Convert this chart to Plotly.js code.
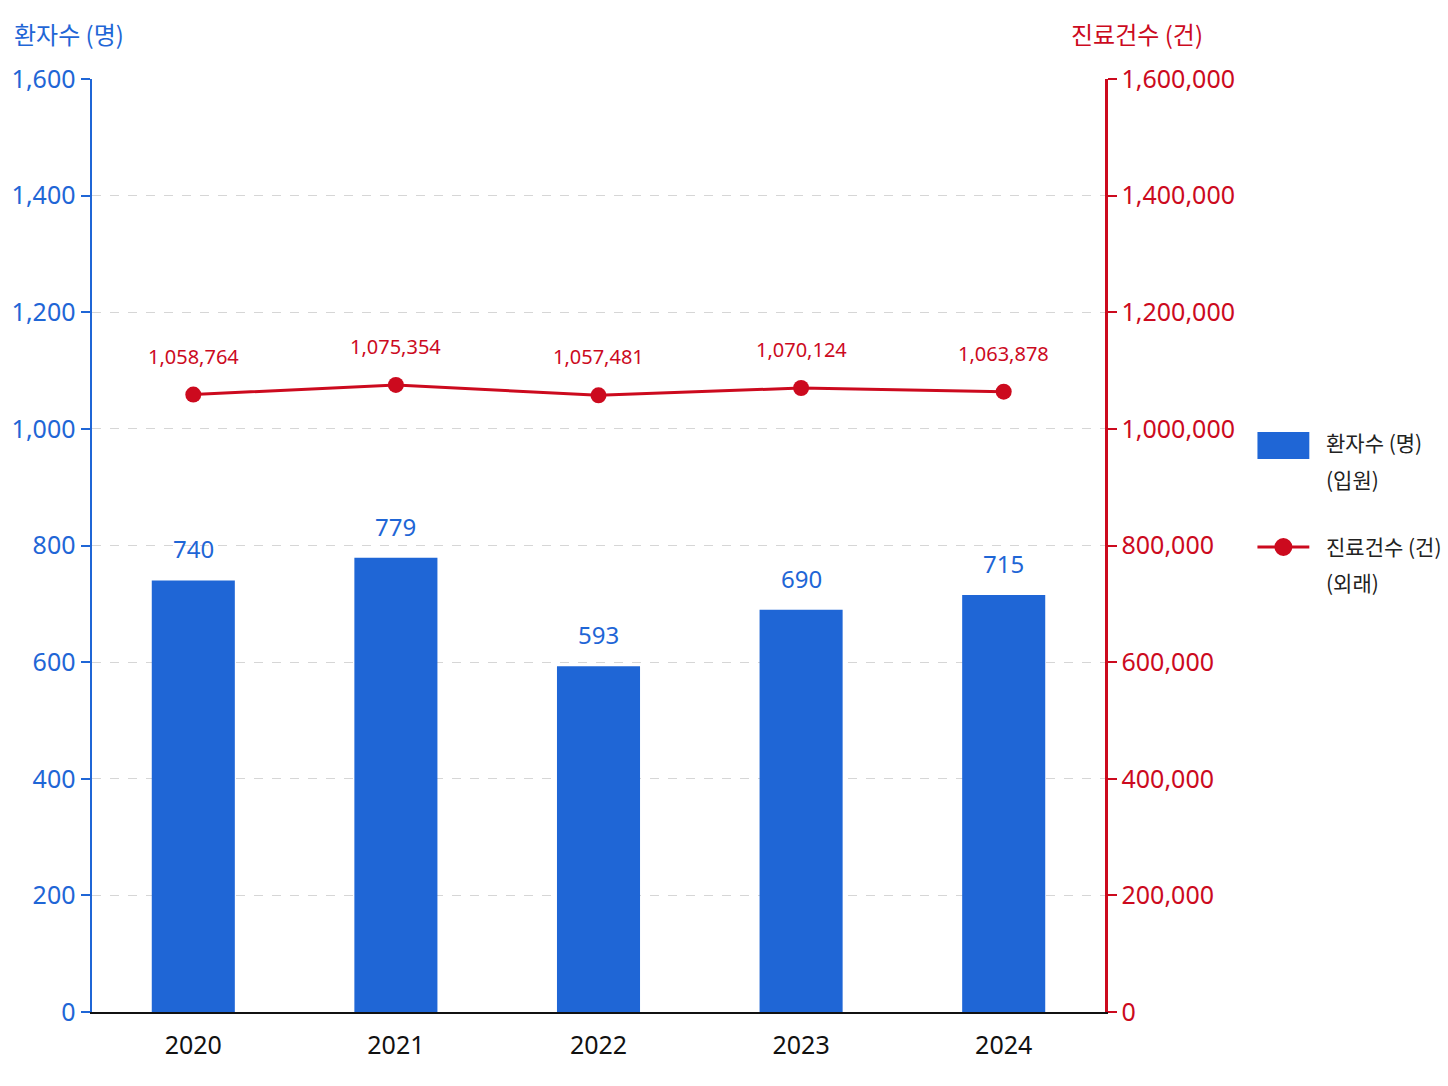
<!DOCTYPE html>
<html>
<head>
<meta charset="utf-8">
<script src="https://cdn.plot.ly/plotly-3.0.1.min.js"></script>
<style>
  html, body { margin: 0; padding: 0; background: #fff; }
  #chart { width: 1448px; height: 1086px; }
</style>
</head>
<body>
<div id="chart"></div>
<script>
const years = ['2020', '2021', '2022', '2023', '2024'];
const patients = [740, 779, 593, 690, 715];          // 환자수 (명), 입원
const visits = [1058764, 1075354, 1057481, 1070124, 1063878]; // 진료건수 (건), 외래

const blue = '#1f66d6';
const red = '#cc0a1e';
const font = '"Noto Sans", "Noto Sans CJK KR", sans-serif';
const krFont = '"Noto Sans CJK KR", "Noto Sans", sans-serif';

const fmt = v => v.toLocaleString('en-US');

const barTrace = {
    type: 'bar',
    x: years,
    y: patients,
    marker: {color: blue},
    width: 0.41,
    showlegend: false,
    hoverinfo: 'skip'
};

const lineTrace = {
    type: 'scatter',
    mode: 'lines+markers',
    x: years,
    y: visits,
    yaxis: 'y2',
    line: {color: red, width: 3},
    marker: {color: red, size: 16},
    cliponaxis: false,
    showlegend: false,
    hoverinfo: 'skip'
};

// value labels, placed from the data (category index on x)
const barLabels = years.map((yr, i) => ({
    x: i, y: patients[i], xref: 'x', yref: 'y',
    text: fmt(patients[i]), showarrow: false,
    yanchor: 'bottom', yshift: 13,
    font: {family: font, size: 24, color: blue}
}));
const lineLabels = years.map((yr, i) => ({
    x: i, y: visits[i], xref: 'x', yref: 'y2',
    text: fmt(visits[i]), showarrow: false,
    yanchor: 'bottom', yshift: 23,
    font: {family: font, size: 20, color: red}
}));

// hand-drawn legend (paper coords)
const legendShapes = [
    {type: 'rect', xref: 'paper', yref: 'paper', x0: 1.1505, x1: 1.2017, y0: 0.5927, y1: 0.6217,
     fillcolor: blue, line: {width: 0}},
    {type: 'line', xref: 'paper', yref: 'paper', x0: 1.1505, x1: 1.2017, y0: 0.4984, y1: 0.4984,
     line: {color: red, width: 3}},
    {type: 'circle', xref: 'paper', yref: 'paper', xsizemode: 'pixel', ysizemode: 'pixel',
     xanchor: 1.1761, yanchor: 0.4984, x0: -9, x1: 9, y0: -9, y1: 9,
     fillcolor: red, line: {width: 0}}
];
const legendTexts = [
    ['환자수 (명)', 0.611], ['(입원)', 0.5713], ['진료건수 (건)', 0.4995], ['(외래)', 0.4609]
].map(([t, y]) => ({
    xref: 'paper', yref: 'paper', x: 1.2158, y: y, xanchor: 'left', yanchor: 'middle',
    showarrow: false, text: t, font: {family: krFont, size: 21, color: '#222'}
}));

const layout = {
    width: 1448,
    height: 1086,
    margin: {t: 79, l: 92, r: 343, b: 74},
    paper_bgcolor: '#fff',
    plot_bgcolor: '#fff',
    font: {family: font},
    showlegend: false,
    xaxis: {
        type: 'category',
        showline: true, linecolor: '#111', linewidth: 2,
        ticks: '', showgrid: false,
        tickfont: {size: 25, color: '#111', family: font},
        ticklabelstandoff: 10
    },
    yaxis: {
        range: [0, 1600],
        tickvals: [0, 200, 400, 600, 800, 1000, 1200, 1400, 1600],
        tickformat: ',d',
        showline: true, linecolor: blue, linewidth: 2.5,
        ticks: 'outside', ticklen: 9, tickwidth: 2, tickcolor: blue,
        tickfont: {size: 25, color: blue, family: font},
        showgrid: true, gridcolor: '#d6d6d6', griddash: 'dash', gridwidth: 1,
        zeroline: false
    },
    yaxis2: {
        overlaying: 'y',
        side: 'right',
        range: [0, 1600000],
        tickvals: [0, 200000, 400000, 600000, 800000, 1000000, 1200000, 1400000, 1600000],
        tickformat: ',d',
        showline: true, linecolor: red, linewidth: 2.5,
        ticks: 'outside', ticklen: 9, tickwidth: 2, tickcolor: red,
        tickfont: {size: 25, color: red, family: font},
        showgrid: false, zeroline: false
    },
    shapes: legendShapes,
    annotations: [
        {
            xref: 'paper', yref: 'paper', x: -0.079, y: 1.049,
            xanchor: 'left', yanchor: 'middle', showarrow: false,
            text: '환자수 (명)', font: {family: krFont, size: 24, color: blue}
        },
        {
            xref: 'paper', yref: 'paper', x: 0.964, y: 1.049,
            xanchor: 'left', yanchor: 'middle', showarrow: false,
            text: '진료건수 (건)', font: {family: krFont, size: 24, color: red}
        }
    ].concat(barLabels, lineLabels, legendTexts)
};

const config = {staticPlot: true, displayModeBar: false};

Plotly.newPlot('chart', [barTrace, lineTrace], layout, config);
</script>
</body>
</html>
